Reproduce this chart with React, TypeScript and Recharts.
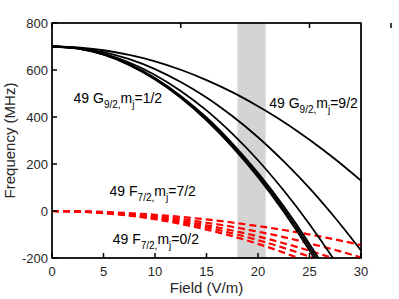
import React from "react";
import { LineChart, Line, XAxis, YAxis, ReferenceArea, ReferenceDot } from "recharts";

// field samples (V/m)
const field = [0, 2.5, 5, 7.5, 10, 12.5, 15, 17.5, 20, 22.5, 25, 27.5, 30];

// 49 G9/2 manifold, |mj| = 9/2 ... 1/2 (MHz)
const g92 = [700, 696, 684, 664, 637, 601, 557, 506, 446, 379, 303, 220, 129];
const g72 = [700, 694, 676, 646, 604, 549, 483, 404, 314, 211, 97, -30, -168];
const g52 = [700, 692, 670, 632, 579, 511, 428, 329, 216, 87, -56, -215, -389];
const g32 = [700, 692, 667, 625, 566, 490, 398, 288, 162, 20, -140, -318, -510];
const g12a = [700, 692, 666, 623, 563, 486, 392, 281, 153, 8, -154, -335, -535];
const g12b = [700, 691, 665, 621, 560, 482, 386, 273, 144, -3, -168, -352, -556];

// 49 F7/2 manifold (MHz)
const f72 = [0, -1, -4, -9, -16, -25, -36, -49, -64, -81, -100, -121, -145];
const f52 = [0, -1, -6, -12, -22, -34, -50, -67, -88, -111, -138, -166, -198];
const f32 = [0, -2, -7, -15, -27, -42, -61, -83, -108, -137, -169, -204, -243];
const f12 = [0, -2, -8, -17, -31, -48, -70, -95, -124, -157, -194, -234, -279];
const f02 = [0, -2, -9, -20, -35, -55, -79, -107, -140, -177, -219, -265, -315];

const xTicks = [0, 5, 10, 15, 20, 25, 30];
const yTicks = [-200, 0, 200, 400, 600, 800];
const band = [18, 20.75];

// annotation anchors (field, freq) and texts
const labelX = [2.1, 21.1, 5.6, 5.9];
const labelY = [460, 437, 63, -140];
const labelTerm = ["G", "G", "F", "F"];
const labelSub = ["9/2", "9/2", "7/2", "7/2"];
const labelMj = ["1/2", "9/2", "7/2", "0/2"];

const blackSeries = [g92, g72, g52, g32, g12a, g12b];
const redSeries = [f72, f52, f32, f12, f02];

const data = field.map((f, i) => {
  const row: Record<string, number> = { field: f };
  blackSeries.forEach((s, k) => (row[`g${k}`] = s[i]));
  redSeries.forEach((s, k) => (row[`f${k}`] = s[i]));
  return row;
});

const TEXT = "#262626";
const BOX = "#000";
const FONT = "'Liberation Sans', Arial, sans-serif";
const TM = 8;

const BottomTick = ({ x, y, payload }: any) => {
  const ay = y - TM;
  return (
    <g>
      <line x1={x} x2={x} y1={ay} y2={ay - 5} stroke={BOX} strokeWidth={1.5} />
      <text x={x} y={ay + 18} textAnchor="middle" fontSize={13} fill={TEXT} fontFamily={FONT}>
        {payload.value}
      </text>
    </g>
  );
};

const TopTick = ({ x, y }: any) => {
  const ay = y + TM;
  return <line x1={x} x2={x} y1={ay} y2={ay + 5} stroke={BOX} strokeWidth={1.5} />;
};

const LeftTick = ({ x, y, payload }: any) => {
  const ax = x + TM;
  return (
    <g>
      <line x1={ax} x2={ax + 5} y1={y} y2={y} stroke={BOX} strokeWidth={1.5} />
      <text x={ax - 4} y={y} dy="0.35em" textAnchor="end" fontSize={13} fill={TEXT} fontFamily={FONT}>
        {payload.value}
      </text>
    </g>
  );
};

const RightTick = ({ x, y }: any) => {
  const ax = x - TM;
  return <line x1={ax} x2={ax - 5} y1={y} y2={y} stroke={BOX} strokeWidth={1.5} />;
};

const StateLabel = (i: number) => (props: any) => {
  const vb = props.viewBox || {};
  return (
    <text x={vb.x} y={vb.y} fontSize={14} fill="#000" fontFamily={FONT}>
      49 {labelTerm[i]}
      <tspan fontSize={10} dy={5}>{labelSub[i]},</tspan>
      <tspan dy={-5}>m</tspan>
      <tspan fontSize={10} dy={5}>j</tspan>
      <tspan dy={-5}>={labelMj[i]}</tspan>
    </text>
  );
};

export default function App() {
  return (
    <div style={{ position: "absolute", left: 0, top: 0 }}>
      <LineChart width={399} height={299} data={data} margin={{ top: 15, right: 30, bottom: 0, left: 0 }}>
        <ReferenceArea x1={band[0]} x2={band[1]} y1={-200} y2={800} fill="#d4d4d4" fillOpacity={1} stroke="none" />
        {redSeries.map((_, k) => (
          <Line
            key={`f${k}`}
            dataKey={`f${k}`}
            type="monotone"
            stroke="#ff0000"
            strokeWidth={2.2}
            strokeDasharray="7 4"
            dot={false}
            isAnimationActive={false}
          />
        ))}
        {blackSeries.map((_, k) => (
          <Line
            key={`g${k}`}
            dataKey={`g${k}`}
            type="monotone"
            stroke="#000"
            strokeWidth={1.8}
            dot={false}
            isAnimationActive={false}
          />
        ))}
        {labelX.map((lx, i) => (
          <ReferenceDot key={`lab${i}`} x={lx} y={labelY[i]} r={0.1} fill="none" stroke="none" ifOverflow="visible" label={StateLabel(i)} />
        ))}
        <ReferenceArea x1={0} x2={30} y1={-200} y2={800} fill="none" stroke={BOX} strokeWidth={1.5} ifOverflow="visible" />
        <XAxis
          dataKey="field"
          type="number"
          domain={[0, 30]}
          ticks={xTicks}
          height={41}
          stroke={BOX}
          tickLine={false}
          tickSize={0}
          tickMargin={TM}
          tick={<BottomTick />}
          label={(p: any) => {
            const vb = p.viewBox || { x: 52, y: 258, width: 309 };
            return (
              <text x={vb.x + vb.width / 2} y={vb.y + 35} textAnchor="middle" fontSize={15} fill={TEXT} fontFamily={FONT}>
                Field (V/m)
              </text>
            );
          }}
        />
        <XAxis
          xAxisId="top"
          orientation="top"
          type="number"
          domain={[0, 30]}
          ticks={xTicks}
          height={8}
          stroke={BOX}
          tickLine={false}
          tickSize={0}
          tickMargin={TM}
          tick={<TopTick />}
        />
        <YAxis
          type="number"
          domain={[-200, 800]}
          ticks={yTicks}
          allowDataOverflow
          width={52}
          stroke={BOX}
          tickLine={false}
          tickSize={0}
          tickMargin={TM}
          tick={<LeftTick />}
          label={(p: any) => {
            const vb = p.viewBox || { x: 0, y: 23, height: 235 };
            const cy = vb.y + vb.height / 2;
            return (
              <text x={15} y={cy} transform={`rotate(-90, 15, ${cy})`} textAnchor="middle" fontSize={15} fill={TEXT} fontFamily={FONT}>
                Frequency (MHz)
              </text>
            );
          }}
        />
        <YAxis
          yAxisId="right"
          orientation="right"
          type="number"
          domain={[-200, 800]}
          ticks={yTicks}
          width={8}
          stroke={BOX}
          tickLine={false}
          tickSize={0}
          tickMargin={TM}
          tick={<RightTick />}
        />
      </LineChart>
    </div>
  );
}
